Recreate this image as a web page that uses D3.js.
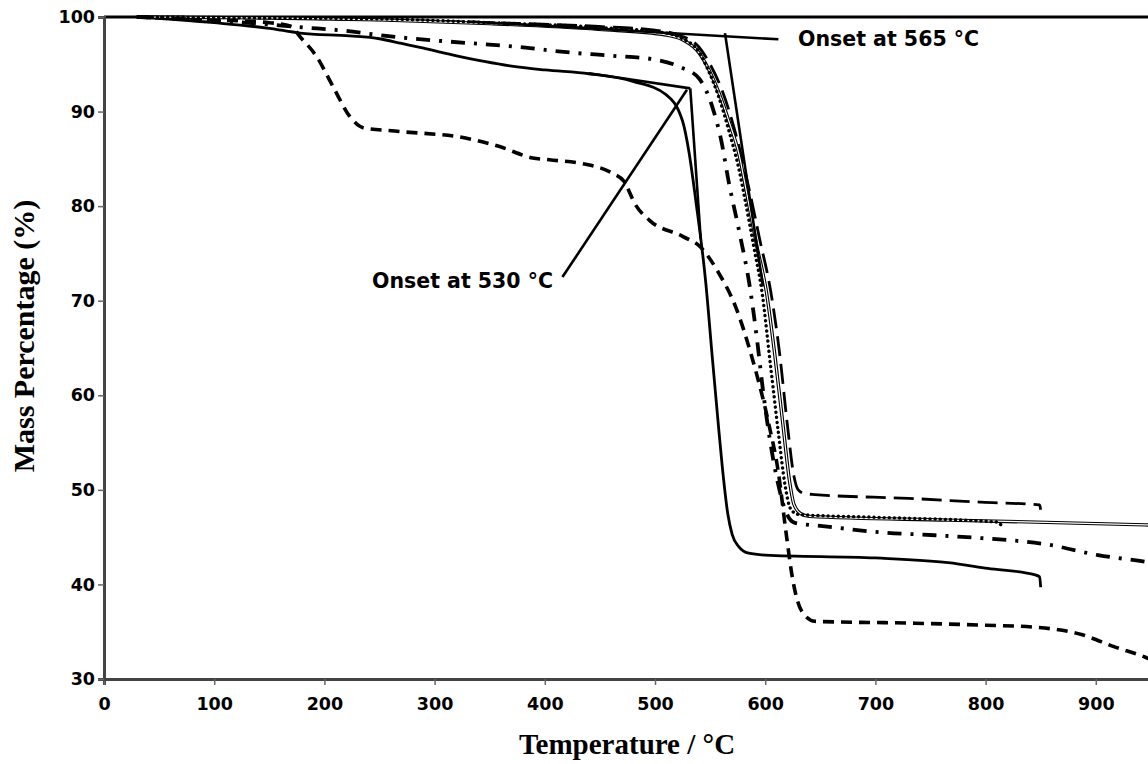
<!DOCTYPE html>
<html>
<head>
<meta charset="utf-8">
<script src="https://cdn.jsdelivr.net/npm/d3@7"></script>
<style>
  body { margin: 0; background: #fff; }
  svg { display: block; }
</style>
</head>
<body>
<div id="chart"></div>
<script>
// temperatures (°C) and mass (%), one pair of arrays per curve
const tempA = [30, 100, 150, 170, 178, 193, 208, 223, 235, 268, 328, 359, 389, 404, 434, 461, 472, 482, 495, 525, 541, 558, 573, 588, 603, 612, 619, 625, 633, 645, 736, 796, 842, 887, 917, 945, 965];
const massA = [100, 99.7, 99.4, 99, 97.9, 95.8, 92.6, 89.5, 88.3, 87.9, 87.2, 86.3, 85.1, 84.9, 84.5, 83.5, 82.6, 80.2, 78.5, 76.8, 75.7, 72.9, 69.4, 64, 57.1, 51.8, 45.4, 40.5, 37.2, 36.1, 35.9, 35.7, 35.5, 34.7, 33.4, 32.3, 31.2];

const tempB = [30, 100, 150, 178, 223, 250, 270, 290, 320, 345, 370, 400, 440, 480, 510, 525, 531, 537, 546, 552, 557, 561, 566, 570, 576, 585, 600, 700, 766, 802, 845, 849, 850];
const massB = [100, 99.4, 98.8, 98.3, 98, 97.7, 97.2, 96.7, 95.9, 95.3, 94.8, 94.4, 94, 93.2, 91.8, 89, 85.6, 80.6, 72, 64, 57.5, 52.5, 47.5, 45.3, 44, 43.3, 43.1, 42.8, 42.3, 41.7, 41, 40.8, 39.7];

const tempC = [30, 150, 250, 350, 449, 500, 524, 540, 550, 560, 570, 578, 586, 595, 605, 613, 620, 626, 630, 636, 645, 730, 796, 849, 850];
const massC = [100, 99.9, 99.7, 99.4, 99, 98.6, 98, 96.8, 95, 92.5, 89, 85.5, 81.5, 76.5, 71, 64.5, 57, 51.5, 50, 49.6, 49.5, 49.1, 48.7, 48.4, 47.9];

const tempD = [30, 150, 250, 350, 449, 510, 525, 540, 549, 558, 567, 576, 583, 592, 601, 609, 616, 622, 626, 632, 640, 766, 945, 970];
const massD = [100, 99.9, 99.7, 99.3, 98.7, 98.1, 97.6, 96.2, 94.4, 92, 89, 85.6, 81.5, 76, 71, 64, 57, 51, 48.5, 47.5, 47.2, 46.8, 46.3, 46.2];

const tempE = [30, 150, 250, 350, 449, 510, 525, 540, 549, 558, 567, 576, 582, 590, 597, 605, 612, 618, 623, 630, 700, 810, 814];
const massE = [100, 99.9, 99.8, 99.4, 98.9, 98.3, 97.7, 96.3, 94.2, 91.5, 88, 84, 80.5, 75.5, 71, 63, 56, 50.5, 48, 47.4, 47.1, 46.6, 46.3];

const tempF = [30, 140, 180, 214, 256, 313, 370, 427, 462, 500, 523, 540, 552, 560, 567, 577, 586, 593, 598, 604, 611, 618, 627, 650, 706, 754, 796, 857, 902, 945, 965];
const massF = [100, 99.3, 98.9, 98.6, 98, 97.4, 96.9, 96.2, 95.9, 95.5, 94.7, 93.5, 90.5, 87, 82.5, 77, 71.5, 65.5, 60.5, 55.5, 51, 47.9, 46.5, 46.2, 45.5, 45.2, 44.9, 44.2, 43.1, 42.4, 42];

// onset construction lines: [temperature, mass] end points
const tangent565 = [[330, 99.53], [612, 97.64]];
const steep565 = [[563.5, 98.3], [598, 71.5]];
const tangent530 = [[440, 94.05], [532, 92.45]];
const steep530 = [[532, 92.45], [541.5, 76.5]];
const pointer530 = [[416, 72.5], [529, 92.3]];

const note565 = { text: "Onset at 565 °C", t: 629.8, m: 96.9 };
const note530 = { text: "Onset at 530 °C", t: 243.2, m: 71.3 };

const xTicks = [0, 100, 200, 300, 400, 500, 600, 700, 800, 900];
const yTicks = [30, 40, 50, 60, 70, 80, 90, 100];

const width = 1148, height = 764;
const margin = { left: 104, top: 17 };

const svg = d3.select("#chart").append("svg")
    .attr("width", width)
    .attr("height", height);

const x = d3.scaleLinear().domain([0, 1000]).range([margin.left, margin.left + 1102]);
const y = d3.scaleLinear().domain([30, 100]).range([679, margin.top]);

// top frame line
svg.append("line")
    .attr("x1", x(0)).attr("x2", x(1000))
    .attr("y1", y(100)).attr("y2", y(100))
    .attr("stroke", "#000").attr("stroke-width", 3);

const tickFont = "'DejaVu Sans', Verdana, sans-serif";

const xAxis = svg.append("g")
    .attr("transform", `translate(0,${y(30)})`)
    .call(d3.axisBottom(x).tickValues(xTicks).tickSize(6).tickPadding(13).tickFormat(d3.format("d")));
const yAxis = svg.append("g")
    .attr("transform", `translate(${x(0)},0)`)
    .call(d3.axisLeft(y).tickValues(yTicks).tickSize(6).tickPadding(3).tickFormat(d3.format("d")));

[xAxis, yAxis].forEach(g => {
    g.select(".domain").attr("stroke", "#444").attr("stroke-width", 3);
    g.selectAll(".tick line").attr("stroke", "#666").attr("stroke-width", 1.5);
    g.selectAll(".tick text")
        .attr("fill", "#000")
        .style("font-family", tickFont)
        .style("font-weight", "bold")
        .style("font-size", "17.5px");
});

// axis titles
svg.append("text")
    .attr("x", 627).attr("y", 754)
    .attr("text-anchor", "middle")
    .style("font-family", "'Liberation Serif', 'Times New Roman', serif")
    .style("font-weight", "bold")
    .style("font-size", "29px")
    .text("Temperature / °C");

svg.append("text")
    .attr("transform", "translate(34,336) rotate(-90)")
    .attr("text-anchor", "middle")
    .style("font-family", "'Liberation Serif', 'Times New Roman', serif")
    .style("font-weight", "bold")
    .style("font-size", "30px")
    .text("Mass Percentage (%)");

const line = d3.line()
    .x(d => x(d[0]))
    .y(d => y(d[1]))
    .curve(d3.curveMonotoneX);

const zip = (ts, ms) => ts.map((t, i) => [t, ms[i]]);

const plot = svg.append("g").attr("fill", "none");

// dashed curve
plot.append("path")
    .attr("d", line(zip(tempA, massA)))
    .attr("stroke", "#000").attr("stroke-width", 3.6)
    .attr("stroke-dasharray", "11,7");

// solid curve
plot.append("path")
    .attr("d", line(zip(tempB, massB)))
    .attr("stroke", "#000").attr("stroke-width", 2.8);

// long dash curve
plot.append("path")
    .attr("d", line(zip(tempC, massC)))
    .attr("stroke", "#000").attr("stroke-width", 2.8)
    .attr("stroke-dasharray", "20,8");

// double thin line curve
plot.append("path")
    .attr("d", line(zip(tempD, massD)))
    .attr("stroke", "#000").attr("stroke-width", 3.4);
plot.append("path")
    .attr("d", line(zip(tempD, massD)))
    .attr("stroke", "#fff").attr("stroke-width", 1.2);

// dotted curve
plot.append("path")
    .attr("d", line(zip(tempE, massE)))
    .attr("stroke", "#000").attr("stroke-width", 3.4)
    .attr("stroke-linecap", "round")
    .attr("stroke-dasharray", "0.1,5");

// dash-dot curve
plot.append("path")
    .attr("d", line(zip(tempF, massF)))
    .attr("stroke", "#000").attr("stroke-width", 3.8)
    .attr("stroke-dasharray", "14,9,3,9");

// onset construction lines
const straight = d3.line().x(d => x(d[0])).y(d => y(d[1]));
[tangent565, steep565, tangent530, steep530, pointer530].forEach(seg => {
    plot.append("path")
        .attr("d", straight(seg))
        .attr("stroke", "#000").attr("stroke-width", 2.6);
});

[note565, note530].forEach(n => {
    svg.append("text")
        .attr("x", x(n.t)).attr("y", y(n.m))
        .style("font-family", tickFont)
        .style("font-weight", "bold")
        .style("font-size", "20.5px")
        .text(n.text);
});
</script>
</body>
</html>
